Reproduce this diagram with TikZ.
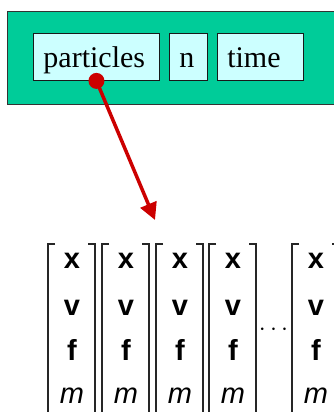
\documentclass[tikz,border=0pt]{standalone}
\usepackage{fontspec}
\setmainfont{Liberation Serif}
\setsansfont{Liberation Sans}
\usetikzlibrary{positioning, arrows.meta}
\definecolor{pkggreen}{HTML}{00CC99}
\definecolor{fieldcyan}{HTML}{CCFFFF}
\definecolor{ptrred}{HTML}{CC0000}

\begin{document}
\begin{tikzpicture}[x=1pt,y=1pt,node distance=9pt]
    \tikzstyle{field} = [rectangle,draw=black!90,line width=0.9pt,fill=fieldcyan,minimum height=47pt,inner sep=10pt,text height=22pt,text depth=0pt,align=left,font=\fontsize{30}{36}\selectfont]
    \tikzstyle{comp} = [anchor=base,font=\fontsize{29}{34}\selectfont\sffamily]
    \tikzstyle{bracket} = [line width=1.5pt,black!85]

    \useasboundingbox (0,0) rectangle (334,-412);

    \node (pkg) [rectangle,draw=black!80,line width=1pt,fill=pkggreen,anchor=north west,minimum width=360pt,minimum height=93pt] at (7,-11) {};

    \node (part) [field,text width=106pt,anchor=north west] at (33,-33) {particles};
    \node (n) [field,text width=18pt,right=of part] {n};
    \node (time) [field,text width=66pt,right=of n] {time};

    \coordinate (tip) at (155,-220);
    \draw [ptrred,line width=3.5pt,-{Triangle[length=17pt,width=17pt]}] (part.south) -- (tip);
    \fill [ptrred] (part.south) circle (8);

    % particle vectors
    \foreach \x [count=\i] in {48,102,156,209,292} {
        \draw [bracket] (\x+7,-244) -- (\x,-244) -- (\x,-420);
        \draw [bracket] (\x+40,-244) -- (\x+47,-244) -- (\x+47,-420);
        \node (x\i) [comp] at (\x+24,-268) {\textbf{x}};
        \node (v\i) [comp] at (\x+24,-315) {\textbf{v}};
        \node (f\i) [comp] at (\x+24,-360) {\textbf{f}};
        \node (m\i) [comp] at (\x+24,-403) {\textit{m}};
    }
    \node (dots) [anchor=base,font=\fontsize{29}{34}\selectfont] at (273.5,-335) {$\cdots$};

\end{tikzpicture}
\end{document}
